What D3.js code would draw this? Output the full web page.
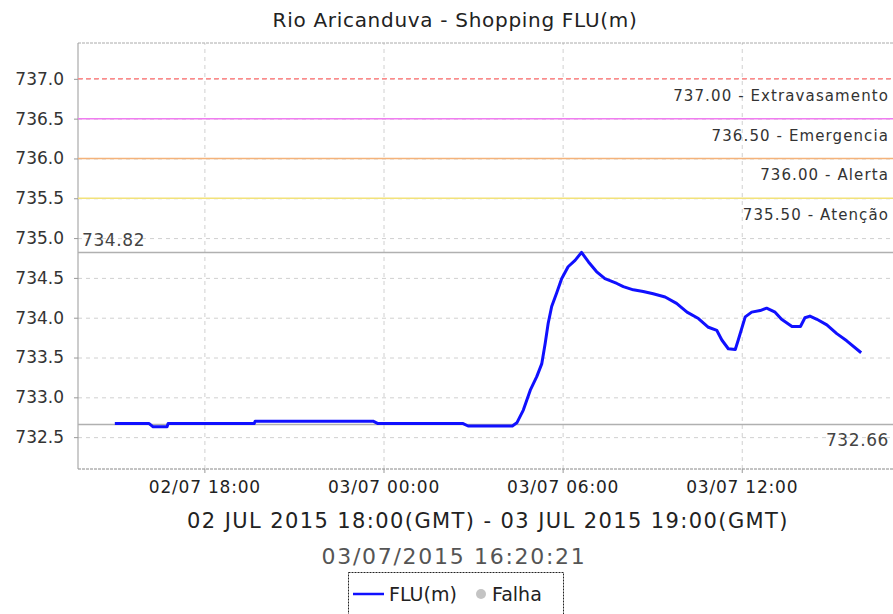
<html>
<head>
  <meta charset="utf-8" />
  <script src="https://cdnjs.cloudflare.com/ajax/libs/d3/7.8.5/d3.min.js"></script>
  <style>
    body { margin: 0; background: #fff; }
    text { font-family: "DejaVu Sans", sans-serif; }
    .grid line { stroke: #d0d0d0; stroke-dasharray: 4,4; }
    .grid path { stroke: none; }
  </style>
</head>
<body>
  <svg width="893" height="614"></svg>
  <script>
    // readings (local time), FLU(m)
    var times = ["02/07 15:00","02/07 16:09","02/07 16:17","02/07 16:45","02/07 16:47","02/07 19:40",
      "02/07 19:42","02/07 23:39","02/07 23:49","03/07 02:40","03/07 02:50","03/07 04:19","03/07 04:28",
      "03/07 04:41","03/07 04:55","03/07 05:08","03/07 05:18","03/07 05:25","03/07 05:31","03/07 05:38",
      "03/07 05:48","03/07 05:58","03/07 06:11","03/07 06:25","03/07 06:38","03/07 06:52","03/07 07:08",
      "03/07 07:25","03/07 07:49","03/07 08:02","03/07 08:22","03/07 08:42","03/07 09:02","03/07 09:26",
      "03/07 09:49","03/07 10:10","03/07 10:33","03/07 10:53","03/07 11:10","03/07 11:20","03/07 11:33",
      "03/07 11:47","03/07 11:53","03/07 12:07","03/07 12:20","03/07 12:37","03/07 12:50","03/07 13:07",
      "03/07 13:20","03/07 13:41","03/07 13:58","03/07 14:07","03/07 14:17","03/07 14:31","03/07 14:51",
      "03/07 15:11","03/07 15:31","03/07 16:00"];
    var levels = [732.67,732.67,732.63,732.63,732.67,732.67,732.70,732.70,732.67,732.67,732.64,732.64,732.68,
      732.84,733.09,733.26,733.42,733.68,733.93,734.14,734.31,734.49,734.64,734.72,734.82,734.70,734.58,
      734.49,734.43,734.39,734.35,734.33,734.30,734.26,734.18,734.07,733.99,733.88,733.84,733.72,733.61,
      733.60,733.72,734.01,734.07,734.09,734.12,734.07,733.98,733.89,733.89,734.00,734.02,733.98,733.91,
      733.80,733.71,733.56];

    var thresholdValues = [737.0, 736.5, 736.0, 735.5];
    var thresholdNames  = ["Extravasamento", "Emergencia", "Alerta", "Atenção"];
    var thresholdColors = ["#ff8a8a", "#f07cf0", "#f4b27a", "#f2e27a"];

    var xTicks  = ["02/07 18:00", "03/07 00:00", "03/07 06:00", "03/07 12:00"];
    var yTicks  = [732.5, 733.0, 733.5, 734.0, 734.5, 735.0, 735.5, 736.0, 736.5, 737.0];
    var xDomain = ["02/07 13:46", "03/07 17:04"];
    var maxLevel = 734.82, minLevel = 732.66;

    var parse = d3.timeParse("%d/%m/%Y %H:%M");
    var toDate = s => parse(s.slice(0, 5) + "/2015" + s.slice(5));
    var data = times.map((t, i) => ({ t: toDate(t), v: levels[i] }));

    var L = 78, R = 893, T = 43, B = 469;
    var svg = d3.select("svg");

    var x = d3.scaleTime().domain(xDomain.map(toDate)).range([L, R]);
    var y = d3.scaleLinear().domain([732.1, 737.45]).range([B, T]);

    // title
    svg.append("text").attr("x", 455).attr("y", 27).attr("text-anchor", "middle")
      .style("font-size", "20px").style("letter-spacing", "0.7px").style("fill", "#222")
      .text("Rio Aricanduva - Shopping FLU(m)");

    // grid
    svg.append("g").attr("class", "grid")
      .attr("transform", `translate(0,${B})`)
      .call(d3.axisBottom(x).tickValues(xTicks.map(toDate)).tickSize(-(B - T)).tickFormat(""));
    svg.append("g").attr("class", "grid")
      .attr("transform", `translate(${L},0)`)
      .call(d3.axisLeft(y).tickValues(yTicks).tickSize(-(R - L)).tickFormat(""));

    // frame
    svg.append("line").attr("x1", L).attr("x2", R).attr("y1", T).attr("y2", T)
      .style("stroke", "#aaa").style("stroke-dasharray", "3,1");
    svg.append("line").attr("x1", L).attr("x2", R).attr("y1", B).attr("y2", B)
      .style("stroke", "#888").style("stroke-dasharray", "3,1");

    // y axis
    var yAxis = svg.append("g").attr("transform", `translate(${L},0)`)
      .call(d3.axisLeft(y).tickValues(yTicks).tickFormat(d3.format(".1f")).tickSize(4).tickPadding(10));
    yAxis.select(".domain").style("stroke", "#999").attr("d", `M0,${T}V${B}`);
    yAxis.selectAll(".tick line").style("stroke", "#999");
    yAxis.selectAll(".tick text").style("font-size", "17px").style("fill", "#333");

    // x axis
    var xAxis = svg.append("g").attr("transform", `translate(0,${B})`)
      .call(d3.axisBottom(x).tickValues(xTicks.map(toDate)).tickFormat(d3.timeFormat("%d/%m %H:%M"))
        .tickSize(4).tickPadding(8));
    xAxis.select(".domain").remove();
    xAxis.selectAll(".tick line").style("stroke", "#999");
    xAxis.selectAll(".tick text").style("font-size", "17px").style("letter-spacing", "0.8px").style("fill", "#222");

    // thresholds
    thresholdValues.forEach((v, i) => {
      svg.append("line").attr("x1", L).attr("x2", R).attr("y1", y(v)).attr("y2", y(v))
        .style("stroke", thresholdColors[i]).style("stroke-width", 1.5)
        .style("stroke-dasharray", i === 0 ? "5,3" : null);
      svg.append("text").attr("x", 889).attr("y", y(v) + 22).attr("text-anchor", "end")
        .style("font-size", "15px").style("letter-spacing", "1.1px").style("fill", "#333")
        .text(d3.format(".2f")(v) + " - " + thresholdNames[i]);
    });

    // max / min lines
    [maxLevel, minLevel].forEach(v => {
      svg.append("line").attr("x1", L).attr("x2", R).attr("y1", y(v)).attr("y2", y(v))
        .style("stroke", "#b0b0b0").style("stroke-width", 1.5);
    });
    svg.append("text").attr("x", 82).attr("y", y(maxLevel) - 6)
      .style("font-size", "17px").style("letter-spacing", "0.6px").style("fill", "#444")
      .text(d3.format(".2f")(maxLevel));
    svg.append("text").attr("x", 889).attr("y", y(minLevel) + 22).attr("text-anchor", "end")
      .style("font-size", "17px").style("letter-spacing", "0.6px").style("fill", "#444")
      .text(d3.format(".2f")(minLevel));

    // series
    var line = d3.line().x(d => x(d.t)).y(d => y(d.v));
    svg.append("path").datum(data).attr("d", line)
      .style("fill", "none").style("stroke", "#1010ff").style("stroke-width", 3)
      .style("stroke-linejoin", "round");

    // footer texts
    svg.append("text").attr("x", 488).attr("y", 528).attr("text-anchor", "middle")
      .style("font-size", "21px").style("letter-spacing", "1.4px").style("fill", "#222")
      .text("02 JUL 2015 18:00(GMT) - 03 JUL 2015 19:00(GMT)");
    svg.append("text").attr("x", 454).attr("y", 564).attr("text-anchor", "middle")
      .style("font-size", "22px").style("letter-spacing", "1.7px").style("fill", "#555")
      .text("03/07/2015 16:20:21");

    // legend
    var lg = svg.append("g");
    lg.append("rect").attr("x", 348.5).attr("y", 572.5).attr("width", 215).attr("height", 42)
      .style("fill", "none").style("stroke", "#222").style("stroke-dasharray", "2,1");
    lg.append("line").attr("x1", 353).attr("x2", 384).attr("y1", 594).attr("y2", 594)
      .style("stroke", "#1010ff").style("stroke-width", 2.5);
    lg.append("text").attr("x", 389).attr("y", 601).style("font-size", "19px").style("fill", "#222").text("FLU(m)");
    lg.append("circle").attr("cx", 481).attr("cy", 594).attr("r", 5).style("fill", "#c4c4c4");
    lg.append("text").attr("x", 492).attr("y", 601).style("font-size", "19px").style("fill", "#222").text("Falha");
  </script>
</body>
</html>
